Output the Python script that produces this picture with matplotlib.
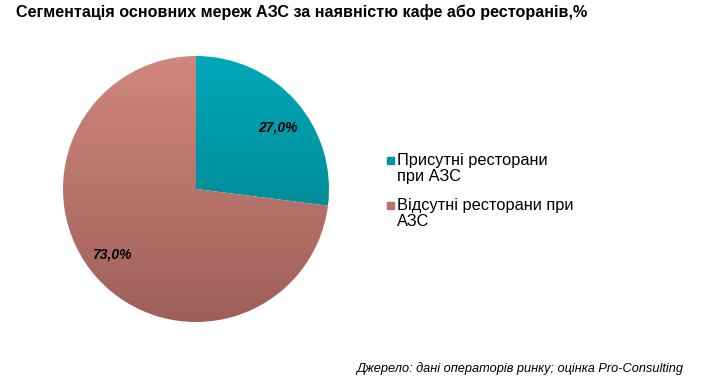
import matplotlib.pyplot as plt
import matplotlib.patches as mpatches
import numpy as np
from matplotlib.colors import LinearSegmentedColormap

# дані
labels = ["Присутні ресторани\nпри АЗС", "Відсутні ресторани при\nАЗС"]
values = [27.0, 73.0]
# кольори (верх / низ градієнта)
top_colors = ["#00A8B8", "#D0877E"]
bottom_colors = ["#007882", "#9E5F59"]
legend_colors = ["#0093A1", "#B8726B"]

W, H = 711, 385
fig = plt.figure(figsize=(W / 100, H / 100), dpi=100)
plt.rcParams['font.family'] = ['Liberation Sans', 'DejaVu Sans']

# осі кругової діаграми, центр ~ (196, 189), радіус ~ 133 px
cx, cy, r = 196, 189, 133
ax = fig.add_axes([(cx - r) / W, (H - cy - r) / H, 2 * r / W, 2 * r / H])
wedges, _ = ax.pie(values, startangle=90, counterclock=False, radius=1,
                   wedgeprops=dict(linewidth=0))
ax.set_xlim(-1, 1)
ax.set_ylim(-1, 1)
ax.set_aspect('equal')
ax.axis('off')

# вертикальний градієнт у кожному секторі
grad = np.linspace(0, 1, 256).reshape(-1, 1)
for w, c1, c2 in zip(wedges, top_colors, bottom_colors):
    cmap = LinearSegmentedColormap.from_list('g', [c1, c2])
    w.set_facecolor('none')
    im = ax.imshow(grad, extent=(-1, 1, -1, 1), origin='upper', cmap=cmap,
                   aspect='auto', zorder=0)
    im.set_clip_path(w)

# підписи відсотків
label_pos = [(0.77, 36.6), (0.80, 217.7)]
for v, (d, ang) in zip(values, label_pos):
    a = np.deg2rad(ang)
    ax.text(d * np.cos(a), d * np.sin(a), f"{v:.1f}%".replace('.', ','),
            ha='center', va='center', fontsize=10, fontweight='bold',
            fontstyle='italic', color='black')

# заголовок
fig.text(16 / W, 1 - 12 / H,
         "Сегментація основних мереж АЗС за наявністю кафе або ресторанів,%",
         ha='left', va='center', fontsize=11.6, fontweight='bold')

# легенда
leg_y = [160, 205]
for lab, col, y in zip(labels, legend_colors, leg_y):
    fig.patches.append(mpatches.Rectangle((387 / W, 1 - (y + 3.5) / H), 7 / W, 7 / H,
                                          transform=fig.transFigure, color=col))
    fig.text(397 / W, 1 - (y - 7) / H, lab, ha='left', va='top',
             fontsize=11.8, linespacing=1.12)

# джерело
fig.text(683 / W, 1 - 369 / H, "Джерело: дані операторів ринку; оцінка Pro-Consulting",
         ha='right', va='center', fontsize=9.2, fontstyle='italic')

fig.savefig('out.png', dpi=100)
